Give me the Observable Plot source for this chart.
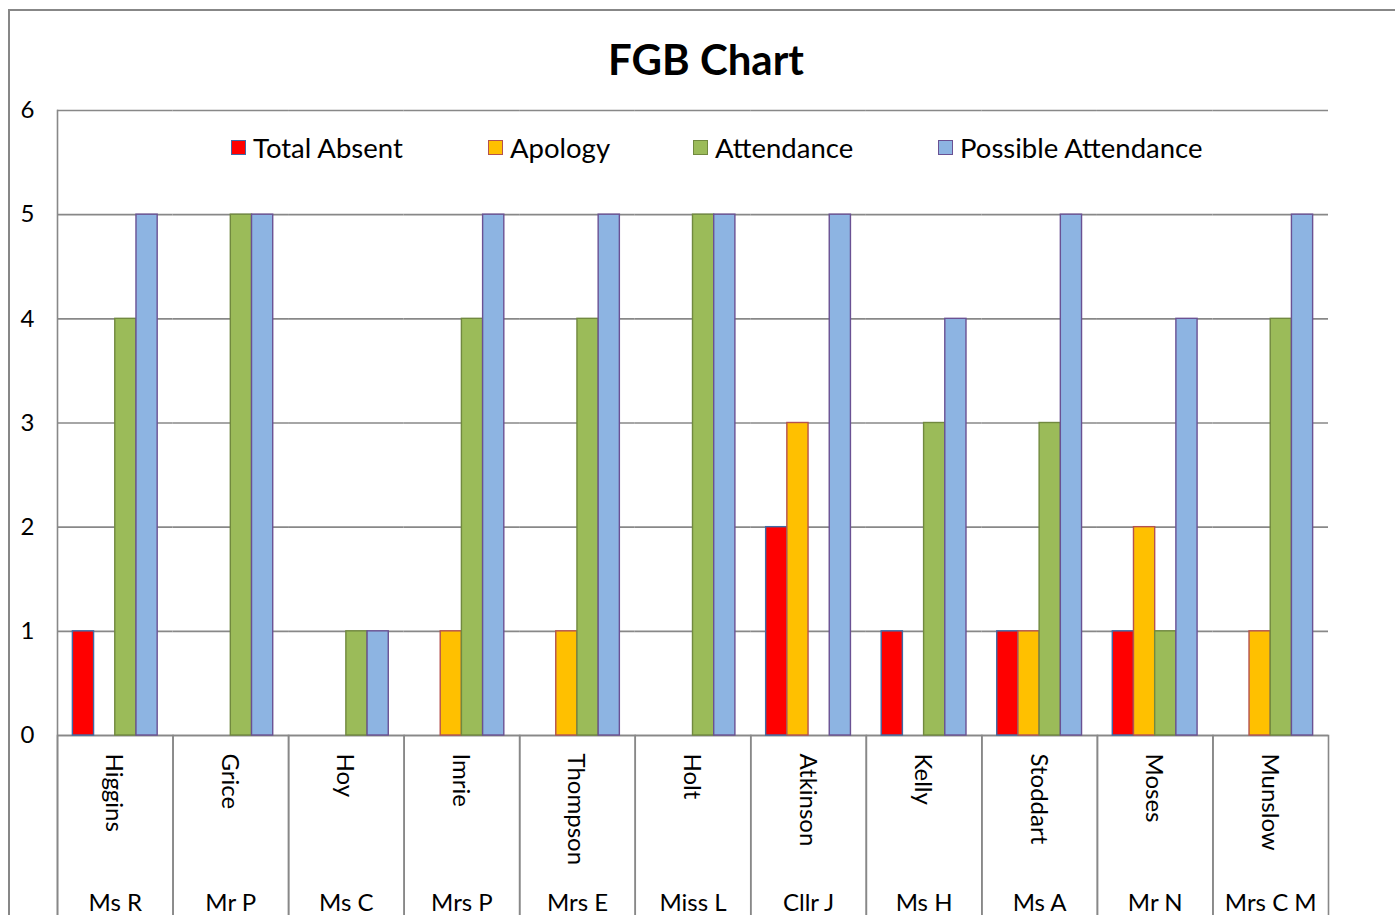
<!DOCTYPE html>
<html>
<head>
<meta charset="utf-8">
<script src="https://cdn.jsdelivr.net/npm/d3@7"></script>
<script src="https://cdn.jsdelivr.net/npm/@observablehq/plot@0.6"></script>
<style>
  html, body { margin: 0; padding: 0; background: #fff; overflow: hidden; }
  #wrap { position: relative; width: 1395px; height: 915px; font-family: Lato, "Open Sans", sans-serif; color: #000; }
  #border { position: absolute; left: 8px; top: 9px; width: 1420px; height: 1000px; border: 2px solid #878787; box-sizing: border-box; }
  #title { position: absolute; left: 0; width: 1412px; top: 33px; text-align: center; font-weight: bold; font-size: 42px; line-height: 52px; }
  #chart { position: absolute; left: 0; top: 0; }
  .leg { position: absolute; top: 133px; height: 28px; display: flex; align-items: center; font-size: 27.5px; white-space: nowrap; }
  .leg .sw { width: 13px; height: 13px; border: 1.5px solid; margin-right: 7px; }
</style>
</head>
<body>
<div id="wrap">
  <div id="border"></div>
  <div id="title">FGB Chart</div>
  <div id="chart"></div>
  <div id="legend"></div>
</div>
<script>
// ---- data ----
const surnames = ["Higgins","Grice","Hoy","Imrie","Thompson","Holt","Atkinson","Kelly","Stoddart","Moses","Munslow"];
const titles = ["Ms R","Mr P","Ms C","Mrs P","Mrs E","Miss L","Cllr J","Ms H","Ms A","Mr N","Mrs C M"];
const series = ["Total Absent","Apology","Attendance","Possible Attendance"];
const totalAbsent = [1,0,0,0,0,0,2,1,1,1,0];
const apology = [0,0,0,1,1,0,3,0,1,2,1];
const attendance = [4,5,1,4,4,5,0,3,3,1,4];
const possibleAttendance = [5,5,1,5,5,5,5,4,5,4,5];
const yTicks = [0,1,2,3,4,5,6];
const fills = ["#FF0000","#FFC000","#9BBB59","#8DB4E2"];
const strokes = ["#3F6AA5","#B4524F","#71893F","#6A5193"];

// ---- layout ----
const legendX = [231, 488, 693, 938];
const gridColor = "#888888";

const seriesValues = [totalAbsent, apology, attendance, possibleAttendance];
const rows = surnames.flatMap((n, i) => series.map((s, j) => ({name: n, series: s, value: seriesValues[j][i], k: j})));
const cats = surnames.map((n, i) => ({name: n, title: titles[i]}));

const plot = Plot.plot({
  width: 1395,
  height: 915,
  marginTop: 110,
  marginBottom: 180,
  marginLeft: 57,
  marginRight: 67,
  style: {fontFamily: "Lato, 'Open Sans', sans-serif", background: "transparent", color: "#000", overflow: "visible"},
  fx: {domain: surnames, padding: 0, round: false, axis: null, label: null},
  x: {domain: series, paddingInner: 0, paddingOuter: 0.725, round: false, axis: null, label: null},
  y: {domain: [0, 6], axis: null, label: null},
  marks: [
    Plot.ruleY(yTicks, {y: d => d, stroke: gridColor, strokeWidth: 1.6}),
    Plot.frame({insetTop: 625, insetBottom: -184, stroke: gridColor, strokeWidth: 1.6}),
    Plot.frame({anchor: "left", facetAnchor: "left", insetBottom: -184, stroke: gridColor, strokeWidth: 1.6}),
    Plot.barY(rows, {
      fx: "name", x: "series", y: "value",
      filter: d => d.value > 0,
      fill: d => fills[d.k],
      stroke: d => strokes[d.k],
      strokeWidth: 1.4
    }),
    Plot.axisY(yTicks, {anchor: "left", tickSize: 0, tickPadding: 23, fontSize: 24, tickFormat: d => String(d), label: null, facetAnchor: "left"}),
    Plot.text(cats, {fx: "name", text: "name", frameAnchor: "bottom", dx: -9, dy: 18, rotate: 90, textAnchor: "start", fontSize: 24, fill: "#000"}),
    Plot.text(cats, {fx: "name", text: "title", frameAnchor: "bottom", dy: 175, fontSize: 24, fill: "#000"})
  ]
});
document.getElementById("chart").appendChild(plot);

const legend = document.getElementById("legend");
series.forEach((s, j) => {
  const item = document.createElement("div");
  item.className = "leg";
  item.style.left = legendX[j] + "px";
  const sw = document.createElement("span");
  sw.className = "sw";
  sw.style.background = fills[j];
  sw.style.borderColor = strokes[j];
  const t = document.createElement("span");
  t.textContent = s;
  item.appendChild(sw);
  item.appendChild(t);
  legend.appendChild(item);
});
</script>
</body>
</html>
